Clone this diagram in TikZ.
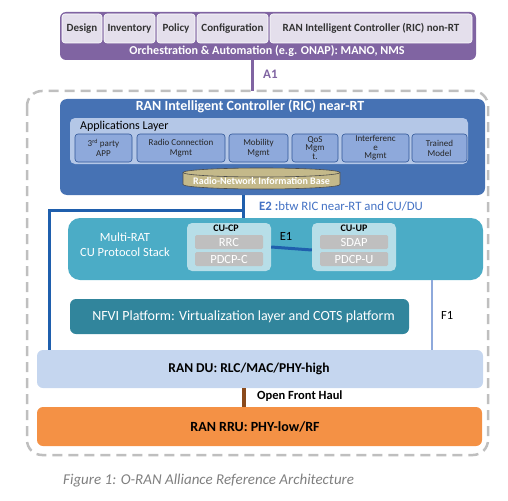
\documentclass[tikz,border=0pt]{standalone}
\usepackage{fontspec}
\setmainfont{Carlito}
\usepackage{tikz}
\usetikzlibrary{arrows}

\definecolor{orchpurple}{HTML}{8064A2}
\definecolor{orchlight}{HTML}{E4DFEC}
\definecolor{ricblue}{HTML}{4672B4}
\definecolor{applight}{HTML}{B4C7E7}
\definecolor{appmid}{HTML}{8EA9DB}
\definecolor{appedge}{HTML}{2F5597}
\definecolor{rnibtan}{HTML}{C4B98A}
\definecolor{e2blue}{HTML}{1F5FAD}
\definecolor{e2text}{HTML}{4472C4}
\definecolor{cuteal}{HTML}{4BACC6}
\definecolor{culight}{HTML}{B7DEE8}
\definecolor{nfviteal}{HTML}{31859C}
\definecolor{dublue}{HTML}{C5D6EF}
\definecolor{rruorange}{HTML}{F49145}
\definecolor{fhbrown}{HTML}{8B4A1C}
\definecolor{capgray}{HTML}{7F7F7F}

\begin{document}
\begin{tikzpicture}[x=1pt,y=-1pt,
  blk/.style={rectangle,rounded corners=6pt,inner sep=0pt},
  orchbox/.style={blk,rounded corners=3pt,fill=orchlight,draw=white,line width=0.6pt,
    minimum height=29pt,font=\fontsize{11}{12}\selectfont\bfseries,text=black!80},
  appbox/.style={blk,rounded corners=3pt,fill=appmid,draw=appedge,line width=0.6pt,
    minimum height=28pt,align=center,font=\fontsize{9}{10}\selectfont,text=black!85},
  graybox/.style={blk,rounded corners=1.5pt,fill=black!25,minimum width=68pt,minimum height=14pt,
    font=\fontsize{12.5}{13}\selectfont,text=white},
  lbl/.style={inner sep=0pt}]
\useasboundingbox (0,0) rectangle (508,500);

% non-RT orchestration
\node[blk,fill=orchpurple,minimum width=416pt,minimum height=48pt] (orch) at (268,36) {};
\node[orchbox,minimum width=40pt] (design) at (82,28.5) {Design};
\node[orchbox,minimum width=51pt] (inventory) at (129.5,28.5) {Inventory};
\node[orchbox,minimum width=38pt] (policy) at (176,28.5) {Policy};
\node[orchbox,minimum width=71pt] (config) at (232.5,28.5) {Configuration};
\node[orchbox,minimum width=202pt] (nonrt) at (371,28.5) {RAN Intelligent Controller (RIC) non-RT};
\node[lbl,text=white,font=\fontsize{12.1}{13}\selectfont\bfseries] (orchtxt) at (267,51) {Orchestration \& Automation (e.g. ONAP): MANO, NMS};

% dashed O-RAN frame
\draw[black!25,line width=2.5pt,dash pattern=on 10pt off 6pt,rounded corners=15pt] (27,91) rectangle (488,455);

% near-RT RIC
\node[blk,rounded corners=7pt,fill=ricblue,minimum width=425pt,minimum height=96pt] (ric) at (272.5,147) {};
\node[lbl,text=white,font=\fontsize{14}{15}\selectfont\bfseries] (rictxt) at (250,106) {RAN Intelligent Controller (RIC) near-RT};
\node[blk,rounded corners=5pt,fill=applight,minimum width=398pt,minimum height=46pt] (apps) at (269,141) {};
\node[lbl,anchor=west,font=\fontsize{12}{13}\selectfont] (appstxt) at (80,126) {Applications Layer};
\node[appbox,minimum width=57pt] (third) at (103.5,148) {3\textsuperscript{rd} party\\APP};
\node[appbox,minimum width=88pt] (radio) at (181,148) {Radio Connection\\Mgmt};
\node[appbox,minimum width=59pt] (mobility) at (258.5,148) {Mobility\\Mgmt};
\node[appbox,minimum width=46pt,font=\fontsize{9}{8.5}\selectfont] (qos) at (315,148) {QoS\\Mgm\\t.};
\node[appbox,minimum width=67pt,font=\fontsize{9}{8.5}\selectfont] (interf) at (375.5,148) {Interferenc\\e\\Mgmt};
\node[appbox,minimum width=55pt] (trained) at (439.5,148) {Trained\\Model};

% radio-network information base
\draw[fill=rnibtan,draw=black!70,line width=0.6pt] (183,172.5) -- (183,184.5)
  arc[start angle=180,end angle=0,x radius=78.5,y radius=4.5] -- (340,172.5)
  arc[start angle=0,end angle=-180,x radius=78.5,y radius=4.5] -- cycle;
\draw[draw=black!70,line width=0.6pt] (183,172.5) arc[start angle=180,end angle=0,x radius=78.5,y radius=4.5];
\node[lbl,text=white,font=\fontsize{10}{11}\selectfont\bfseries] (rnib) at (261.5,181) {Radio-Network Information Base};

% CU
\node[blk,rounded corners=12pt,fill=cuteal,minimum width=415pt,minimum height=62pt] (cu) at (275.5,249) {};
\node[lbl,align=center,text=white,font=\fontsize{12.5}{15}\selectfont] (cutxt) at (125,245) {Multi-RAT\\CU Protocol Stack};
\node[blk,rounded corners=5pt,fill=culight,minimum width=84pt,minimum height=48pt] (cucp) at (229,247) {};
\node[lbl,font=\fontsize{10}{11}\selectfont\bfseries] (cucptxt) at (226,228) {CU-CP};
\node[graybox] (rrc) at (229,242) {RRC};
\node[graybox] (pdcpc) at (229,259) {PDCP-C};
\node[blk,rounded corners=5pt,fill=culight,minimum width=84pt,minimum height=48pt] (cuup) at (354,247) {};
\node[lbl,font=\fontsize{10}{11}\selectfont\bfseries] (cuuptxt) at (354,228) {CU-UP};
\node[graybox] (sdap) at (354,242) {SDAP};
\node[graybox] (pdcpu) at (354,259) {PDCP-U};
\draw[e2blue,line width=3pt] (cucp.east) -- ([yshift=-3pt]cuup.west);
\node[lbl,font=\fontsize{12.5}{13}\selectfont] (e1) at (286,236) {E1};

% NFVI
\node[blk,fill=nfviteal,minimum width=339pt,minimum height=35pt,text=white,
  font=\fontsize{14}{15}\selectfont] (nfvi) at (239.5,316.5) {\hspace{8pt}NFVI Platform: Virtualization layer and COTS platform};

% DU and RRU
\node[blk,fill=dublue,minimum width=446pt,minimum height=38pt,font=\fontsize{13.5}{14}\selectfont\bfseries] (du) at (260,369) {\hspace{-22pt}RAN DU: RLC/MAC/PHY-high};
\node[blk,fill=rruorange,minimum width=445pt,minimum height=39pt,font=\fontsize{14}{15}\selectfont\bfseries] (rru) at (259.5,426.5) {\hspace{-9pt}RAN RRU: PHY-low/RF};

% interfaces
\draw[orchpurple,line width=3pt] ([xshift=-16pt]orch.south) -- ([xshift=-16pt]orch.south |- 0,91);
\node[lbl,anchor=west,text=orchpurple,font=\fontsize{13}{14}\selectfont\bfseries] (a1) at (263,74) {A1};
\coordinate (e2b) at (243,210.5);
\draw[e2blue,line width=3pt] ([xshift=-29.5pt]ric.south) -- ([xshift=-29.5pt]ric.south |- cu.north);
\draw[e2blue,line width=3pt] (e2b) -| ([xshift=13pt]du.north west);
\node[lbl,anchor=west,text=e2text,font=\fontsize{12.8}{13}\selectfont] (e2) at (259,206) {\textbf{E2 :}btw RIC near-RT and CU/DU};
\draw[appmid,line width=2.5pt] ([xshift=156.5pt]cu.south) -- ([xshift=156.5pt]cu.south |- du.north);
\node[lbl,anchor=west,font=\fontsize{12.5}{13}\selectfont] (f1) at (441,315) {F1};
\draw[fhbrown,line width=4pt] ([xshift=-16pt]du.south) -- ([xshift=-16pt]du.south |- rru.north);
\node[lbl,anchor=west,font=\fontsize{12.5}{13}\selectfont\bfseries] (fh) at (257,396) {Open Front Haul};

% caption
\node[lbl,anchor=west,text=capgray,font=\fontsize{15}{16}\selectfont\itshape] (cap) at (63,481) {Figure 1: O-RAN Alliance Reference Architecture};
\end{tikzpicture}
\end{document}
